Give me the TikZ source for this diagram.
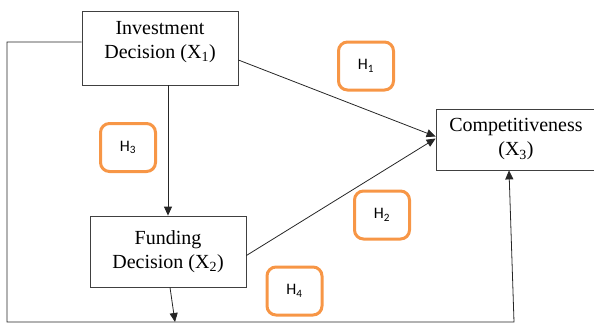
\documentclass[tikz,border=0pt]{standalone}
\usepackage{fontspec}
\setmainfont{Liberation Serif}
\newfontfamily\hypfont{Carlito}
\usetikzlibrary{calc}
\usetikzlibrary{arrows.meta}
\definecolor{hyporange}{HTML}{F79646}

\begin{document}
\begin{tikzpicture}[x=1pt, y=-1pt,
  var/.style={draw=black!75, line width=0.8pt, align=center, inner sep=0pt,
    font=\fontsize{20}{24}\selectfont},
  hyp/.style={draw=hyporange, line width=3pt, rounded corners=9pt, inner sep=0pt,
    minimum width=55pt, minimum height=48pt, font=\hypfont\fontsize{16}{19}\selectfont},
  link/.style={black!85, line width=0.8pt},
  >={Triangle[length=9pt,width=8pt]}]
\useasboundingbox (0,0) rectangle (594,325);

% variables
\node[var, minimum width=156pt, text height=47pt, text depth=27pt] (inv) at (160,48) {Investment\\Decision (X\textsubscript{1})};
\node[var, minimum width=156pt, minimum height=71pt] (fund) at (168,251.5) {Funding\\Decision (X\textsubscript{2})};
\node[var, minimum width=160pt, minimum height=61pt] (comp) at (516,139.5) {Competitiveness\\(X\textsubscript{3})};

% hypotheses
\node[hyp] (h1) at (366,66) {H\textsubscript{1}};
\node[hyp] (h2) at (382,215) {H\textsubscript{2}};
\node[hyp] (h3) at (128,147.5) {H\textsubscript{3}};
\node[hyp] (h4) at (294.5,291) {H\textsubscript{4}};

\coordinate (bl) at (7,322);
\coordinate (br) at (514,322);
\coordinate (fb) at (175,322);

\draw[link,->] ($(inv.east)+(0,12)$) -- ($(comp.west)+(0,-3)$);
\draw[link,->] ($(fund.east)+(0,4)$) -- ($(comp.west)+(0,-1)$);
\draw[link,->] (inv.south -| fund.north) -- (fund.north);
\draw[link,->] ($(fund.south)+(2,0)$) -- (fb);
\draw[link,->] ($(inv.west)+(0,-6)$) -| (bl) -- (br) -- ($(comp.south)+(-7,0)$);

\end{tikzpicture}
\end{document}
